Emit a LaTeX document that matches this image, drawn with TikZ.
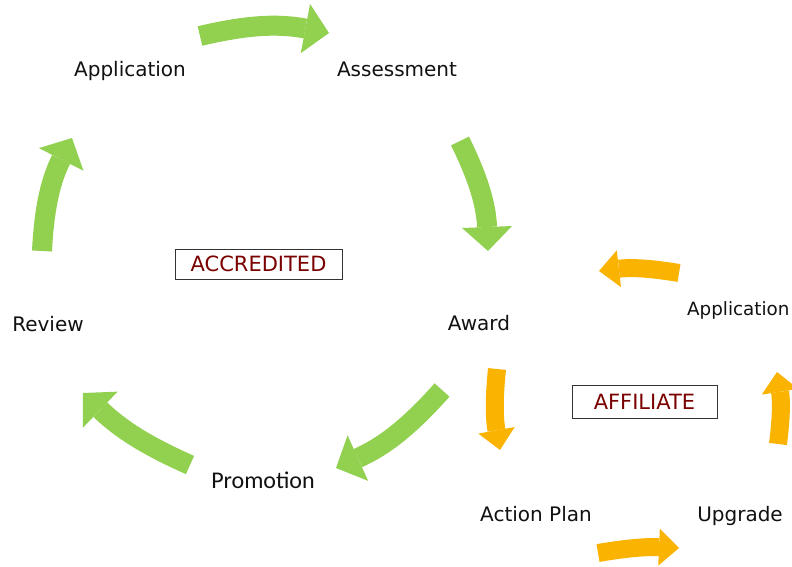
\documentclass[tikz,border=0pt]{standalone}
\usepackage{fontspec}
\setmainfont{DejaVu Sans}
\newfontfamily\calib{Carlito}
\usetikzlibrary{arrows.meta}
\definecolor{grn}{HTML}{92D050}
\definecolor{org}{HTML}{F9B300}
\definecolor{tagred}{HTML}{7A0000}
\definecolor{txt}{HTML}{111111}
\begin{document}
\begin{tikzpicture}[x=1pt,y=-1pt,
 lbl/.style={anchor=base, text=txt, font=\fontsize{20}{24}\selectfont, inner sep=0pt},
 tagbox/.style={draw=black!80, line width=1pt, text=tagred, font=\fontsize{21}{24}\selectfont, inner sep=0pt},
 garrow/.style={draw=grn, line width=20pt, -{Triangle[width=50pt,length=24pt,line width=0pt]}},
 oarrow/.style={draw=org, line width=18pt, -{Triangle[width=37pt,length=20pt,line width=0pt]}},
]
\useasboundingbox (0,0) rectangle (792,567);
% labels
\node[lbl] (app) at (130,77) {Application};
\node[lbl] (ass) at (397,77) {Assessment};
\node[lbl] (awd) at (479,330) {Award};
\node[lbl] (rev) at (48,331) {Review};
\node[lbl, font=\calib\fontsize{24}{28}\selectfont] (pro) at (263,488) {Promotion};
\node[lbl, anchor=base west, font=\fontsize{18.3}{22}\selectfont] (app2) at (687,315) {Application};
\node[lbl] (act) at (536,521) {Action Plan};
\node[lbl] (upg) at (740,521) {Upgrade};
\node[tagbox, minimum width=167pt, minimum height=30pt] (acc) at (258.5,264) {ACCREDITED};
\node[tagbox, minimum width=145pt, minimum height=33pt] (aff) at (644.5,402) {AFFILIATE};
% arrow end points
\coordinate (g1s) at (200,36);  \coordinate (g1e) at (329,33);
\coordinate (g2s) at (460,141); \coordinate (g2e) at (488,251);
\coordinate (g3s) at (42,251);  \coordinate (g3e) at (72,138);
\coordinate (g4s) at (190,465); \coordinate (g4e) at (83,393);
\coordinate (g5s) at (442,390); \coordinate (g5e) at (336,468);
\coordinate (o1s) at (679,273); \coordinate (o1e) at (599,271);
\coordinate (o2s) at (497,369); \coordinate (o2e) at (500,450);
\coordinate (o3s) at (598,553); \coordinate (o3e) at (679,548);
\coordinate (o4s) at (778,444); \coordinate (o4e) at (777,372);
% green cycle
\draw[garrow] (g1s) to[bend left=12] (g1e);
\draw[garrow] (g2s) to[bend left=12] (g2e);
\draw[garrow] (g3s) to[bend left=12] (g3e);
\draw[garrow] (g4s) to[bend left=10] (g4e);
\draw[garrow] (g5s) to[bend left=12] (g5e);
% orange cycle
\draw[oarrow] (o1s) to[bend right=8] (o1e);
\draw[oarrow] (o2s) to[bend right=8] (o2e);
\draw[oarrow] (o3s) to[bend left=6] (o3e);
\draw[oarrow] (o4s) to[bend right=8] (o4e);
\end{tikzpicture}
\end{document}
